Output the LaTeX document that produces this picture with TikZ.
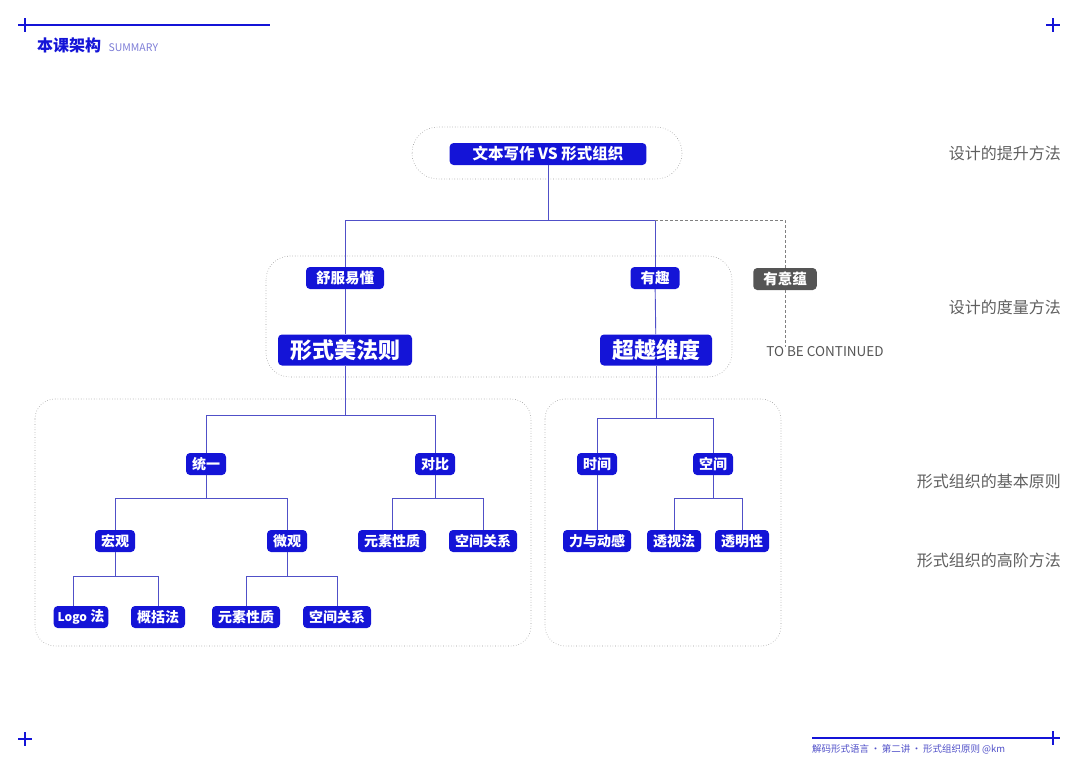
\documentclass[tikz,border=0pt]{standalone}
\usepackage{fontspec}
\setmainfont{Noto Sans CJK SC}
\usepackage{tikz}
\usetikzlibrary{positioning,calc}

\definecolor{nodeblue}{RGB}{20,20,215}
\definecolor{lineblue}{RGB}{80,80,200}
\definecolor{notegray}{RGB}{85,85,85}
\definecolor{sidegray}{RGB}{95,95,95}

\begin{document}
\begin{tikzpicture}[x=1pt, y=-1pt,
  box/.style={fill=nodeblue, text=white, rounded corners=4pt,
              font=\bfseries\fontsize{14}{14}\selectfont,
              inner xsep=6pt, inner ysep=0pt, minimum height=22pt},
  head/.style={box, font=\bfseries\fontsize{14.5}{14.5}\selectfont, inner xsep=10pt},
  big/.style={box, font=\bfseries\fontsize{22}{22}\selectfont, inner xsep=12pt, minimum height=31pt},
  topic/.style={box, font=\bfseries\fontsize{15.5}{15.5}\selectfont, inner xsep=23pt},
  note/.style={head, fill=notegray},
  link/.style={draw=lineblue, line width=0.9pt},
  dashlink/.style={draw=gray, line width=0.7pt, densely dashed},
  frame/.style={draw=gray!80, line width=0.6pt, dotted},
  side/.style={text=sidegray, font=\fontsize{16}{16}\selectfont, anchor=east, inner sep=0pt},
  cornermark/.style={draw=nodeblue, line width=1.2pt}
]
  \useasboundingbox (0,0) rectangle (1080,764);

  % header and footer
  \draw[cornermark] (18,25) -- (270,25);
  \draw[cornermark] (25,18) -- (25,32);
  \draw[cornermark] (1046,25) -- (1060,25) (1053,18) -- (1053,32);
  \draw[cornermark] (18,739) -- (32,739) (25,732) -- (25,746);
  \draw[cornermark] (812,738) -- (1060,738) (1053,731) -- (1053,745);
  \node[anchor=base west, inner sep=0pt, text=nodeblue,
        font=\bfseries\fontsize{16}{16}\selectfont] (title) at (37,51) {本课架构};
  \node[base right=7pt of title, inner sep=0pt, text=lineblue!75,
        font=\fontsize{10.5}{10.5}\selectfont] (summary) {SUMMARY};
  \node[anchor=base west, inner sep=0pt, text=lineblue,
        font=\fontsize{9.5}{9.5}\selectfont] (footer) at (812,752) {解码形式语言\,·\,第二讲\,·\,形式组织原则 @km};

  % level labels
  \node[side] (lvA) at (1061,153) {设计的提升方法};
  \node[side] (lvB) at (1061,307) {设计的度量方法};
  \node[side] (lvC) at (1061,481) {形式组织的基本原则};
  \node[side] (lvD) at (1061,560) {形式组织的高阶方法};

  % dotted frames
  \draw[frame, rounded corners=26pt] (412,127) rectangle (682,179);
  \draw[frame, rounded corners=24pt] (266,256) rectangle (732,377);
  \draw[frame, rounded corners=20pt] (35,399) rectangle (531,646);
  \draw[frame, rounded corners=20pt] (545,399) rectangle (781,646);

  % nodes
  \node[topic] (root)  at (548,154) {文本写作 VS 形式组织};
  \node[head]  (easy)  at (345,278) {舒服易懂};
  \node[head]  (fun)   at (655,278) {有趣};
  \node[note]  (deep)  at (785,279) {有意蕴};
  \node[big]   (rule)  at (345,350) {形式美法则};
  \node[big]   (dim)   at (656,350) {超越维度};
  \node[text=notegray, font=\fontsize{13.5}{13.5}\selectfont, inner sep=0pt] (tbc) at (825,352) {TO BE CONTINUED};

  \node[box] (unity)    at (206,464) {统一};
  \node[box] (contrast) at (435,464) {对比};
  \node[box] (time)     at (597,464) {时间};
  \node[box] (space)    at (713,464) {空间};

  \node[box] (macro)  at (115,541) {宏观};
  \node[box] (micro)  at (287,541) {微观};
  \node[box] (elemA)  at (392,541) {元素性质};
  \node[box] (relA)   at (483,541) {空间关系};
  \node[box] (force)  at (597,541) {力与动感};
  \node[box] (persp)  at (674,541) {透视法};
  \node[box] (transp) at (742,541) {透明性};

  \node[box, inner xsep=4pt] (logo) at (81,617) {{\fontsize{12}{12}\selectfont Logo} 法};
  \node[box] (summ)  at (158,617) {概括法};
  \node[box] (elemB) at (246,617) {元素性质};
  \node[box] (relB)  at (337,617) {空间关系};

  % junctions
  \coordinate (j0) at (548,220);
  \coordinate (j1) at (345,415);
  \coordinate (j2) at (656,418);
  \coordinate (j3) at (206,498);
  \coordinate (j4) at (435,498);
  \coordinate (j5) at (713,498);
  \coordinate (j6) at (115,576);
  \coordinate (j7) at (287,576);

  % connectors
  \draw[link] (root) -- (j0) -| (easy.north);
  \draw[link] (j0) -| (fun.north);
  \draw[link] (easy) -- (rule);
  \draw[link] (fun) -- (dim);
  \draw[dashlink] (fun.north |- j0) -| (deep.north);
  \draw[dashlink] (deep.south) -- (deep.south |- tbc.north);

  \draw[link] (rule) -- (j1) -| (unity.north);
  \draw[link] (j1) -| (contrast.north);
  \draw[link] (dim) -- (j2) -| (time.north);
  \draw[link] (j2) -| (space.north);

  \draw[link] (unity) -- (j3) -| (macro.north);
  \draw[link] (j3) -| (micro.north);
  \draw[link] (contrast) -- (j4) -| (elemA.north);
  \draw[link] (j4) -| (relA.north);
  \draw[link] (time) -- (force);
  \draw[link] (space) -- (j5) -| (persp.north);
  \draw[link] (j5) -| (transp.north);

  \draw[link] (macro) -- (j6) -| ([xshift=-8pt]logo.north);
  \draw[link] (j6) -| (summ.north);
  \draw[link] (micro) -- (j7) -| (elemB.north);
  \draw[link] (j7) -| (relB.north);
\end{tikzpicture}
\end{document}
